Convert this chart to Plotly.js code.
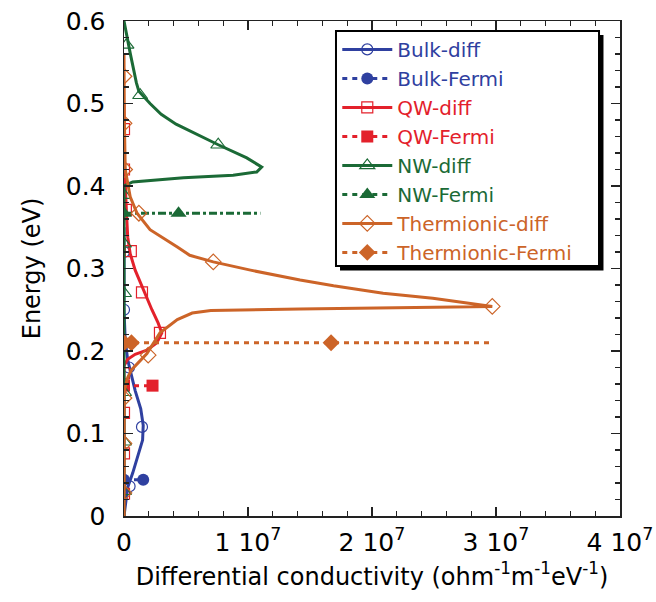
<!DOCTYPE html>
<html><head><meta charset="utf-8">
<script src="https://cdn.plot.ly/plotly-3.0.1.min.js"></script>
<style>body{margin:0;background:#fff}</style></head>
<body><div id="chart" style="width:656px;height:602px"></div>
<script>
// ---------- data (x: differential conductivity, E: energy in eV) ----------
const bulkDiffX = [0, 0.1e6, 0.3e6, 0.7e6, 1.1e6, 1.5e6, 1.55e6, 1.35e6, 0.9e6, 0.6e6, 0.3e6, 0.1e6, 0, 0];
const bulkDiffE = [0, 0.01, 0.035, 0.052, 0.072, 0.092, 0.11, 0.13, 0.152, 0.172, 0.189, 0.213, 0.25, 0.35];
const bulkMarkX = [0.45e6, 1.45e6, 0.4e6, 0, 0];
const bulkMarkE = [0.036, 0.108, 0.18, 0.25, 0.32];
const bulkFermiX = [0, 1.55e6];
const bulkFermiE = [0.044, 0.044];

const qwDiffX = [0, 0, 0.3e6, 0.9e6, 1.85e6, 2.65e6, 3.05e6, 2.75e6, 2.25e6, 1.55e6, 0.9e6, 0.5e6, 0.3e6, 0.2e6, 0.1e6, 0.03e6, 0];
const qwDiffE = [0, 0.182, 0.19, 0.196, 0.201, 0.21, 0.222, 0.234, 0.25, 0.274, 0.298, 0.318, 0.338, 0.367, 0.395, 0.43, 0.5];
const qwMarkX = [0, 0, 0, 0, 2.9e6, 1.45e6, 0.55e6, 0.15e6, 0, 0];
const qwMarkE = [0.027, 0.076, 0.125, 0.173, 0.222, 0.271, 0.321, 0.371, 0.42, 0.469];
const qwFermiX = [0, 2.3e6];
const qwFermiE = [0.158, 0.158];

const nwDiffX = [0, 0, 0.7e6, 4.8e6, 8.8e6, 1.07e7, 1.11e7, 9.9e6, 7.6e6, 6.0e6, 4.2e6, 3.0e6, 2.1e6, 1.2e6, 1.0e6, 0.5e6, 0.25e6, 0];
const nwDiffE = [0, 0.40, 0.405, 0.41, 0.413, 0.417, 0.423, 0.434, 0.45, 0.462, 0.475, 0.487, 0.50, 0.515, 0.525, 0.561, 0.58, 0.6];
const nwMarkX = [0, 0, 0, 0, 0, 0, 0, 7.6e6, 1.3e6, 0.2e6];
const nwMarkE = [0.03, 0.09, 0.15, 0.21, 0.27, 0.33, 0.389, 0.45, 0.51, 0.571];
const nwFermiX = [0, 1.1e7];
const nwFermiE = [0.367, 0.367];
const nwFermiMarkX = [0, 4.4e6];
const nwFermiMarkE = [0.367, 0.367];

const thDiffX = [0, 0, 0.3e6, 0.6e6, 1.85e6, 2.9e6, 4.3e6, 5.5e6, 7.0e6, 1.42e7, 2.97e7, 2.49e7, 2.09e7, 1.69e7, 1.42e7, 1.02e7, 7.2e6, 5.3e6, 4.3e6, 2.1e6, 1.05e6, 0.5e6, 0.1e6, 0.03e6, 0];
const thDiffE = [0, 0.15, 0.168, 0.177, 0.197, 0.222, 0.238, 0.246, 0.249, 0.251, 0.254, 0.264, 0.27, 0.279, 0.286, 0.298, 0.308, 0.316, 0.326, 0.347, 0.367, 0.387, 0.42, 0.48, 0.56];
const thMarkX = [0, 0, 0, 1.95e6, 2.97e7, 7.2e6, 1.2e6, 0.05e6, 0, 0];
const thMarkE = [0.028, 0.088, 0.143, 0.195, 0.254, 0.308, 0.367, 0.42, 0.476, 0.533];
const thFermiX = [0, 2.97e7];
const thFermiE = [0.21, 0.21];
const thFermiMarkX = [0, 0.6e6, 1.67e7];
const thFermiMarkE = [0.21, 0.21, 0.21];

const xTickVals = [0, 1e7, 2e7, 3e7, 4e7];
const xTickText = ['0', '1 10<sup>7</sup>', '2 10<sup>7</sup>', '3 10<sup>7</sup>', '4 10<sup>7</sup>'];

// ---------- styling ----------
const BLUE = '#2f40a0', RED = '#e3212b', GREEN = '#1b6a36', ORANGE = '#cc6428';
const FONT = 'DejaVu Sans, Liberation Sans, sans-serif';

function withGaps(xs, ys) {
  const gx = [], gy = [];
  xs.forEach((v, i) => { gx.push(v, null); gy.push(ys[i], null); });
  return {x: gx, y: gy};
}
function label(t, c) { return '<span style="color:' + c + '">' + t + '</span>'; }

const traces = [];
function diff(name, c, xs, ys, mx, my, sym, msize) {
  traces.push({x: xs, y: ys, mode: 'lines', line: {color: c, width: 3}, showlegend: false, hoverinfo: 'skip'});
  const g = withGaps(mx, my);
  traces.push({x: g.x, y: g.y, mode: 'lines+markers', name: label(name, c), connectgaps: false,
    line: {color: c, width: 3},
    marker: {symbol: sym, size: msize, color: c, line: {color: c, width: 1.2}}});
}
function fermiLine(c, xs, ys, dash) {
  traces.push({x: xs, y: ys, mode: 'lines', line: {color: c, width: 3, dash: dash}, showlegend: false, hoverinfo: 'skip'});
}
function fermiMarks(name, c, mx, my, sym, msize, dash) {
  const g = withGaps(mx, my);
  traces.push({x: g.x, y: g.y, mode: 'lines+markers', name: label(name, c), connectgaps: false,
    line: {color: c, width: 3, dash: dash},
    marker: {symbol: sym, size: msize, color: c, line: {width: 0}}});
}
const DOTS = '5px,5px';

diff('Bulk-diff', BLUE, bulkDiffX, bulkDiffE, bulkMarkX, bulkMarkE, 'circle-open', 11);
fermiLine(BLUE, bulkFermiX, bulkFermiE, DOTS);
fermiMarks('Bulk-Fermi', BLUE, bulkFermiX, bulkFermiE, 'circle', 12, DOTS);
diff('QW-diff', RED, qwDiffX, qwDiffE, qwMarkX, qwMarkE, 'square-open', 11);
fermiLine(RED, qwFermiX, qwFermiE, DOTS);
fermiMarks('QW-Fermi', RED, qwFermiX, qwFermiE, 'square', 12, DOTS);
diff('NW-diff', GREEN, nwDiffX, nwDiffE, nwMarkX, nwMarkE, 'triangle-up-open', 13);
fermiLine(GREEN, nwFermiX, nwFermiE, '8px,3px,3px,3px');
fermiMarks('NW-Fermi', GREEN, nwFermiMarkX, nwFermiMarkE, 'triangle-up', 14, DOTS);
diff('Thermionic-diff', ORANGE, thDiffX, thDiffE, thMarkX, thMarkE, 'diamond-open', 12);
fermiLine(ORANGE, thFermiX, thFermiE, DOTS);
fermiMarks('Thermionic-Fermi', ORANGE, thFermiMarkX, thFermiMarkE, 'diamond', 13, DOTS);

const axisCommon = {
  showline: true, linecolor: '#222', linewidth: 1.5, mirror: 'allticks',
  ticks: 'inside', ticklen: 9, tickwidth: 1.5, tickcolor: '#222',
  showgrid: false, zeroline: false, fixedrange: true,
  tickfont: {family: FONT, size: 25, color: '#000'}
};

const layout = {
  width: 656, height: 602,
  margin: {l: 124, r: 36, t: 21, b: 86},
  paper_bgcolor: '#fff', plot_bgcolor: '#fff',
  font: {family: FONT, color: '#000'},
  xaxis: Object.assign({}, axisCommon, {
    range: [0, 4e7], tickmode: 'array', tickvals: xTickVals, ticktext: xTickText,
    minor: {tickmode: 'linear', tick0: 0, dtick: 2e6, ticks: 'inside', ticklen: 5, tickwidth: 1.2, tickcolor: '#222'},
    ticklabelstandoff: 3,
    title: {text: 'Differential conductivity (ohm<sup>-1</sup>m<sup>-1</sup>eV<sup>-1</sup>)', font: {family: FONT, size: 24}, standoff: 12}
  }),
  yaxis: Object.assign({}, axisCommon, {
    range: [0, 0.6], tickmode: 'linear', tick0: 0, dtick: 0.1,
    minor: {tickmode: 'linear', tick0: 0, dtick: 0.02, ticks: 'inside', ticklen: 5, tickwidth: 1.2, tickcolor: '#222'},
    ticklabelstandoff: 12,
    title: {text: 'Energy (eV)', font: {family: FONT, size: 24}, standoff: 18}
  }),
  legend: {
    x: 0.43, y: 0.982, xanchor: 'left', yanchor: 'top',
    bgcolor: 'rgba(0,0,0,0)', borderwidth: 0,
    font: {family: FONT, size: 20},
    itemwidth: 50, tracegroupgap: 0
  },
  shapes: [
    {type: 'rect', xref: 'paper', yref: 'paper', x0: 0.4355, x1: 0.9667, y0: 0.4960, y1: 0.9717,
     fillcolor: '#000', line: {width: 0}, layer: 'above'},
    {type: 'rect', xref: 'paper', yref: 'paper', x0: 0.4274, x1: 0.9577, y0: 0.5051, y1: 0.9798,
     fillcolor: '#fff', line: {color: '#000', width: 2}, layer: 'above'}
  ],
  showlegend: true
};

Plotly.newPlot('chart', traces, layout, {displayModeBar: false, staticPlot: true});
</script>
</body></html>
